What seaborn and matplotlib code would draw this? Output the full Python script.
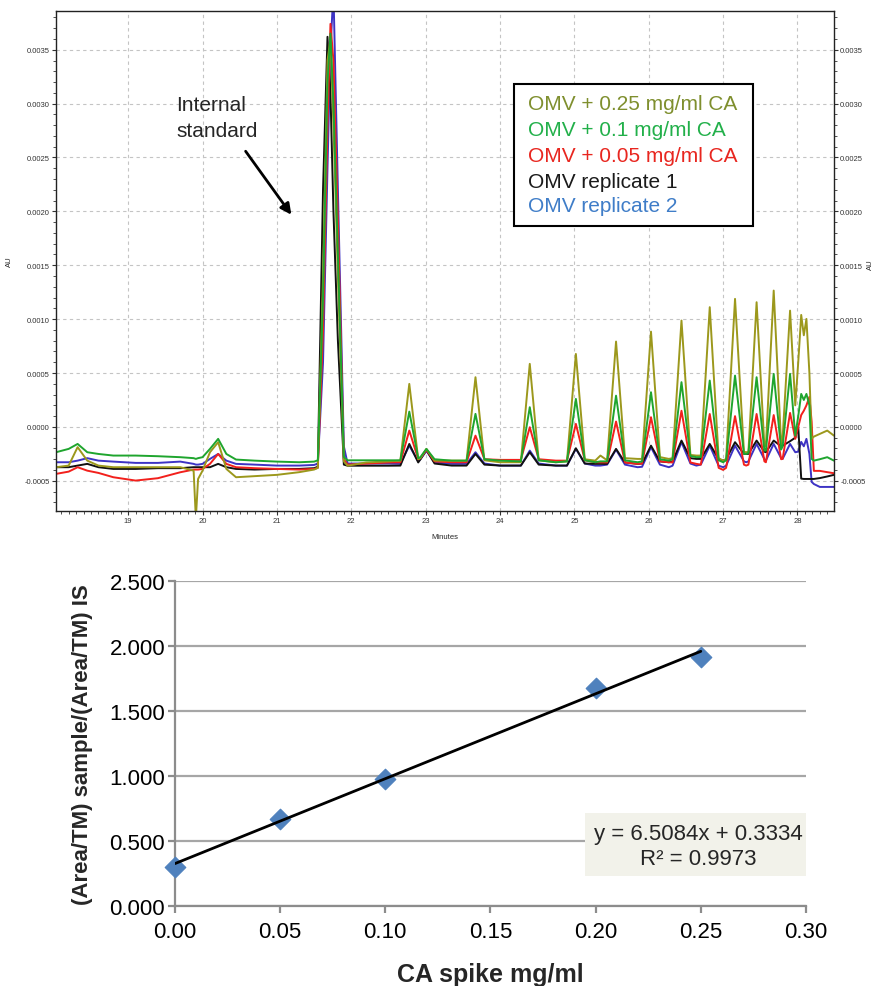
import matplotlib
matplotlib.use("Agg")
import matplotlib.pyplot as plt
from matplotlib.patches import Rectangle
from matplotlib.ticker import MultipleLocator, FormatStrFormatter
import numpy as np
import pandas as pd
import seaborn as sns

# chromatogram traces (units of 1e-4 AU)
minutes = [
    18.03, 18.20, 18.32, 18.45, 18.60, 18.80, 19.10, 19.40, 19.70, 19.88,
    19.91, 19.94, 20.00, 20.10, 20.21, 20.32, 20.45, 20.70, 21.00, 21.30, 21.50,
    21.55, 21.62, 21.68, 21.72, 21.76, 21.82, 21.90, 21.95,
    22.20, 22.50, 22.66, 22.78, 22.90, 22.93, 23.01, 23.12, 23.35, 23.55,
    23.67, 23.79, 24.00, 24.28, 24.40, 24.52, 24.75, 24.90, 25.02, 25.14,
    25.28, 25.35, 25.44, 25.56, 25.68, 25.85, 25.91, 26.03, 26.15, 26.27,
    26.32, 26.44, 26.56, 26.64, 26.70, 26.82, 26.94, 27.00, 27.04, 27.16,
    27.28, 27.31, 27.34, 27.45, 27.555, 27.575, 27.68, 27.78, 27.80, 27.90,
    27.97, 28.01, 28.05, 28.085, 28.12, 28.16, 28.19, 28.22, 28.30, 28.40,
    28.49,
]
olive = [
    -3.74, -3.59, -1.88, -3.13, -3.59, -3.74, -3.74, -3.74, -3.74, -4.06,
    -8.50, -4.83, -4.06, -2.35, -1.42, -3.90, -4.67, -4.57, -4.45, -4.20, -3.96,
    -3.80, 14.0, 34.0, 36.0, 28.0, 14.0, -3.2, -3.6,
    -3.3, -3.2, -3.13, 3.99, -3.0, -2.9, -2.04, -3.13, -3.13, -3.13,
    4.61, -3.1, -3.28, -3.28, 5.85, -3.1, -3.28, -3.2, 6.77, -3.0,
    -3.13, -2.66, -3.1, 7.92, -2.9, -2.97, -2.97, 8.84, -2.8, -2.97,
    -2.9, 9.87, -2.6, -2.66, -2.66, 11.11, -2.9, -3.13, -3.0, 11.88,
    -2.3, -2.35, -2.3, 11.57, -1.8, -1.74, 12.65, -1.6, -1.0, 10.79,
    2.0, 6.0, 10.39, 8.5, 10.02, 5.0, -1.11, -0.9, -0.65, -0.34,
    -0.81,
]
green = [
    -2.35, -2.04, -1.58, -2.35, -2.51, -2.66, -2.66, -2.72, -2.81, -2.90,
    -2.97, -2.90, -2.81, -2.04, -1.11, -2.51, -3.03, -3.13, -3.22, -3.28, -3.22,
    -3.1, 12.0, 32.0, 36.5, 30.0, 16.0, -2.8, -3.1,
    -3.1, -3.1, -3.1, 1.42, -2.9, -2.8, -2.04, -3.0, -3.13, -3.13,
    1.21, -3.0, -3.13, -3.2, 1.83, -3.1, -3.28, -3.2, 2.60, -3.1,
    -3.28, -3.2, -3.2, 2.90, -3.1, -3.28, -3.2, 3.22, -3.0, -3.13,
    -3.0, 4.15, -2.7, -2.81, -2.8, 4.30, -3.1, -3.28, -3.1, 4.76,
    -2.5, -2.51, -2.4, 4.61, -2.2, -2.2, 4.92, -2.1, -1.8, 4.92,
    -0.81, 1.0, 3.06, 2.5, 3.06, 2.0, -2.97, -3.13, -3.0, -2.81,
    -3.13,
]
red = [
    -4.36, -4.15, -3.74, -4.06, -4.27, -4.67, -4.98, -4.76, -4.21, -3.96,
    -3.96, -3.96, -3.90, -3.43, -2.51, -3.43, -3.74, -3.83, -3.90, -3.96, -3.90,
    -3.8, 9.0, 28.0, 37.4, 34.0, 19.0, -3.0, -3.5,
    -3.4, -3.3, -3.28, -0.34, -3.0, -2.9, -2.13, -3.2, -3.28, -3.28,
    -0.81, -3.0, -3.06, -3.06, -0.03, -3.0, -3.13, -3.13, 0.28, -3.1,
    -3.28, -3.3, -3.3, 0.50, -3.3, -3.43, -3.4, 0.90, -3.2, -3.28,
    -3.3, 1.50, -3.3, -3.43, -3.5, 1.20, -3.8, -3.99, -3.8, 1.00,
    -3.5, -3.59, -3.5, 1.20, -3.2, -3.28, 1.10, -3.0, -2.97, 1.30,
    -1.11, 0.0, 1.10, 1.5, 2.0, 2.78, 0.5, -4.08, -4.08, -4.2,
    -4.3,
]
black = [
    -3.74, -3.74, -3.59, -3.43, -3.74, -3.90, -3.90, -3.83, -3.83, -3.74,
    -3.74, -3.74, -3.74, -3.74, -3.43, -3.74, -3.90, -3.96, -3.90, -3.90, -3.83,
    -3.7, 22.0, 36.2, 31.0, 20.0, 8.0, -3.5, -3.6,
    -3.6, -3.6, -3.59, -1.58, -3.3, -3.0, -2.13, -3.4, -3.59, -3.59,
    -2.51, -3.5, -3.59, -3.59, -2.35, -3.5, -3.59, -3.59, -1.98, -3.4,
    -3.43, -3.43, -3.43, -2.04, -3.3, -3.43, -3.4, -1.74, -3.2, -3.28,
    -3.2, -1.27, -2.9, -2.97, -2.97, -1.58, -3.0, -3.13, -3.0, -1.42,
    -2.5, -2.51, -2.5, -1.27, -2.3, -2.35, -1.27, -1.8, -1.74, -1.33,
    -1.0, 0.0, -4.8, -4.83, -4.83, -4.83, -4.83, -4.83, -4.75, -4.6,
    -4.45,
]
blue = [
    -3.28, -3.28, -3.13, -2.90, -3.13, -3.22, -3.34, -3.34, -3.22, -3.43,
    -3.50, -3.50, -3.43, -2.97, -2.51, -3.13, -3.43, -3.50, -3.59, -3.59, -3.53,
    -3.4, 6.0, 24.0, 35.0, 40.5, 22.0, -1.8, -3.4,
    -3.4, -3.4, -3.43, -1.74, -3.2, -3.0, -2.23, -3.3, -3.43, -3.43,
    -2.35, -3.4, -3.59, -3.59, -2.2, -3.4, -3.59, -3.59, -2.04, -3.4,
    -3.59, -3.59, -3.5, -2.11, -3.5, -3.74, -3.7, -1.88, -3.5, -3.74,
    -3.6, -1.42, -3.4, -3.59, -3.5, -1.74, -3.6, -3.74, -3.6, -1.74,
    -3.2, -3.28, -3.2, -1.58, -3.0, -3.13, -1.58, -2.9, -2.97, -1.58,
    -2.35, -2.3, -1.39, -1.8, -1.11, -2.5, -5.1, -5.3, -5.57, -5.57,
    -5.57,
]

trace_labels = ["OMV + 0.25 mg/ml CA", "OMV + 0.1 mg/ml CA", "OMV + 0.05 mg/ml CA",
                "OMV replicate 1", "OMV replicate 2"]
trace_values = [olive, green, red, black, blue]
line_colors = ["#9c981c", "#1fa52e", "#f2201c", "#111111", "#3d33c4"]
text_colors = ["#7f8f2e", "#22b04a", "#e8261f", "#1a1a1a", "#3f7dc8"]

# calibration data
ca_spike = [0.00, 0.05, 0.10, 0.20, 0.25]
area_ratio = [0.303, 0.672, 0.975, 1.680, 1.918]

sns.set_theme(style="white")
plt.rcParams["font.family"] = ["Liberation Sans", "DejaVu Sans"]

frames = []
for lab, vals in zip(trace_labels, trace_values):
    frames.append(pd.DataFrame({"minutes": minutes, "au": np.array(vals) * 1e-4, "trace": lab}))
chrom = pd.concat(frames, ignore_index=True)

fig = plt.figure(figsize=(8.77, 9.87), dpi=100)

# ---- chromatogram ----
ax1 = fig.add_axes([0.0639, 0.4813, 0.887, 0.5066])
draw_order = [trace_labels[i] for i in (4, 3, 2, 0, 1)]
sns.lineplot(data=chrom, x="minutes", y="au", hue="trace", hue_order=draw_order,
             palette=dict(zip(trace_labels, line_colors)), estimator=None, sort=False,
             legend=False, lw=1.4, ax=ax1)
ax1.set_xlim(18.03, 28.49)
ax1.set_ylim(-0.00078, 0.00386)
ax1.xaxis.set_major_locator(MultipleLocator(1))
ax1.xaxis.set_minor_locator(MultipleLocator(0.1))
ax1.yaxis.set_major_locator(MultipleLocator(0.0005))
ax1.yaxis.set_minor_locator(MultipleLocator(0.0001))
ax1.yaxis.set_major_formatter(FormatStrFormatter("%.4f"))
ax1.xaxis.set_major_formatter(FormatStrFormatter("%d"))
ax1.grid(True, which="major", color="#c4c4c4", lw=0.8, ls=(0, (3, 3)))
ax1.tick_params(axis="both", which="major", labelsize=5.5, length=3, width=0.8,
                direction="out", colors="#333333", pad=1.5)
ax1.tick_params(axis="both", which="minor", length=2, width=0.6, direction="out", colors="#333333")
ax1.tick_params(axis="y", which="both", right=True, labelright=True, left=True)
ax1.tick_params(axis="x", which="both", bottom=True, top=False)
for sp in ax1.spines.values():
    sp.set_color("#222222")
    sp.set_linewidth(1.0)
ax1.set_xlabel("Minutes", fontsize=5.5, labelpad=6)
ax1.set_ylabel("AU", fontsize=5.5, labelpad=8)
fig.text(870 / 877, 1 - 265 / 987, "AU", fontsize=5.5, rotation=90, ha="center", va="center")

# legend box
fig.add_artist(Rectangle((514 / 877, 1 - 227 / 987), 239 / 877, 142 / 987,
                         transform=fig.transFigure, facecolor="white",
                         edgecolor="black", lw=1.5, zorder=5))
for lab, col, ypx in zip(trace_labels, text_colors, [104, 130, 156, 182, 207]):
    fig.text(528 / 877, 1 - ypx / 987, lab, color=col, fontsize=15,
             ha="left", va="center", zorder=6)

# internal standard annotation
fig.text(176 / 877, 1 - 96 / 987, "Internal\nstandard", fontsize=15, ha="left",
         va="top", linespacing=1.45)
ax1.annotate("", xy=(293, 987 - 218), xytext=(244, 987 - 150),
             xycoords="figure pixels", textcoords="figure pixels",
             arrowprops=dict(arrowstyle="-|>", lw=2, color="black", mutation_scale=16))

# ---- calibration curve ----
ax2 = fig.add_axes([0.1995, 0.0811, 0.7195, 0.3293])
sns.scatterplot(x=ca_spike, y=area_ratio, marker="D", s=110, color="#4f81bd",
                edgecolor="#4f81bd", ax=ax2, zorder=3, clip_on=False)
sns.regplot(x=ca_spike, y=area_ratio, scatter=False, ci=None, truncate=True,
            color="black", line_kws={"lw": 2, "zorder": 4}, ax=ax2)
ax2.set_xlim(0, 0.30)
ax2.set_ylim(0, 2.5)
ax2.xaxis.set_major_locator(MultipleLocator(0.05))
ax2.yaxis.set_major_locator(MultipleLocator(0.5))
ax2.xaxis.set_major_formatter(FormatStrFormatter("%.2f"))
ax2.yaxis.set_major_formatter(FormatStrFormatter("%.3f"))
ax2.yaxis.grid(True, color="#a6a6a6", lw=1.6)
ax2.xaxis.grid(False)
ax2.set_axisbelow(True)
for side in ("top", "right"):
    ax2.spines[side].set_visible(False)
for side in ("left", "bottom"):
    ax2.spines[side].set_color("#8c8c8c")
    ax2.spines[side].set_linewidth(1.6)
ax2.tick_params(axis="both", labelsize=16, length=5, width=1.6, color="#8c8c8c",
                direction="out", labelcolor="black", left=True, bottom=True)
ax2.tick_params(axis="x", pad=6)
ax2.tick_params(axis="y", pad=2)
ax2.set_xlabel("CA spike mg/ml", fontsize=18, fontweight="bold", labelpad=14)
ax2.set_ylabel("(Area/TM) sample/(Area/TM) IS", fontsize=16, fontweight="bold", labelpad=12)

fig.add_artist(Rectangle((585 / 877, 1 - 877 / 987), 221 / 877, 63 / 987,
                         transform=fig.transFigure, facecolor="#f2f2ea",
                         edgecolor="none", zorder=5))
fig.text(698 / 877, 1 - 847 / 987, "y = 6.5084x + 0.3334\nR² = 0.9973", fontsize=16,
         ha="center", va="center", multialignment="center", linespacing=1.3, zorder=6)

fig.savefig("out.png", dpi=100)
plt.close(fig)
